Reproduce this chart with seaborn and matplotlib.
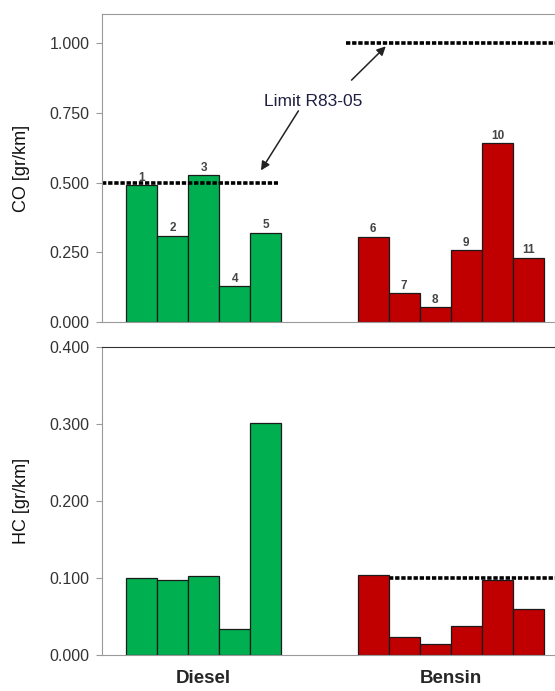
import numpy as np
import pandas as pd
import matplotlib
matplotlib.use('Agg')
import matplotlib.pyplot as plt
import seaborn as sns

# Datos
vehiculo = ['1', '2', '3', '4', '5', '6', '7', '8', '9', '10', '11']
grupo = ['Diesel'] * 5 + ['Bensin'] * 6
co_vals = [0.491, 0.309, 0.527, 0.129, 0.320, 0.306, 0.103, 0.053, 0.258, 0.640, 0.230]
hc_vals = [0.100, 0.098, 0.103, 0.034, 0.301, 0.104, 0.023, 0.014, 0.038, 0.098, 0.060]
limite_co_diesel = 0.5
limite_co_bensin = 1.0
limite_hc_bensin = 0.1
etiqueta_limite = 'Limit R83-05'

# posiciones de las barras (hueco entre grupos)
posiciones = list(range(5)) + [7.46 + i for i in range(6)]

df = pd.DataFrame({'pos': posiciones, 'co': co_vals, 'hc': hc_vals,
                   'grupo': grupo, 'id': vehiculo})

sns.set_style('white')
plt.rcParams['font.family'] = ['Liberation Sans', 'DejaVu Sans']

colores = {'Diesel': '#00B050', 'Bensin': '#C00000'}
XMIN, XMAX = -1.27, -1.27 + 478 / 31.06

fig = plt.figure(figsize=(5.55, 6.91), dpi=100)
ax_co = fig.add_axes([102 / 555, 1 - 322 / 691, 478 / 555, 308 / 691])
ax_hc = fig.add_axes([102 / 555, 1 - 655 / 691, 478 / 555, 308 / 691])


def dibujar(ax, columna):
    sns.barplot(data=df, x='pos', y=columna, hue='grupo', palette=colores,
                native_scale=True, width=1, dodge=False, edgecolor='#1a1a1a',
                linewidth=0.9, saturation=1, legend=False, ax=ax)
    ax.set_xlim(XMIN, XMAX)
    ax.set_xlabel('')
    for s in ['left', 'bottom', 'top']:
        ax.spines[s].set_color('#9a9a9a')
    ax.spines['right'].set_visible(False)
    ax.tick_params(axis='y', direction='out', length=4, color='#9a9a9a',
                   labelsize=11.5, labelcolor='#333333', left=True, pad=5)
    ax.yaxis.set_major_formatter(matplotlib.ticker.FormatStrFormatter('%.3f'))


# Panel CO
dibujar(ax_co, 'co')
ax_co.set_ylim(0, 1.104)
ax_co.set_yticks([0, 0.25, 0.5, 0.75, 1.0])
ax_co.set_xticks([])
ax_co.set_ylabel('CO [gr/km]', fontsize=13, labelpad=14, color='#111111')
for cont, g in zip(ax_co.containers, ['Diesel', 'Bensin']):
    ax_co.bar_label(cont, labels=df.loc[df.grupo == g, 'id'].tolist(),
                    padding=1, fontsize=8.5, color='#444444', fontweight='bold')

punteado = dict(color='black', linewidth=2.6, linestyle=(0, (1.2, 0.5)))
ax_co.plot([XMIN, 4.4], [limite_co_diesel] * 2, **punteado)
ax_co.plot([6.6, XMAX], [limite_co_bensin] * 2, **punteado)
ax_co.text(5.53, 0.792, etiqueta_limite, fontsize=12.5, color='#1f1f3f',
           ha='center', va='center')
flecha = dict(arrowstyle='-|>', color='#222222', lw=1.1, mutation_scale=13)
ax_co.annotate('', xy=(3.8, 0.535), xytext=(5.1, 0.765), arrowprops=flecha)
ax_co.annotate('', xy=(7.93, 0.995), xytext=(6.7, 0.86), arrowprops=flecha)

# Panel HC
dibujar(ax_hc, 'hc')
ax_hc.set_ylim(0, 0.4)
ax_hc.set_yticks([0, 0.1, 0.2, 0.3, 0.4])
ax_hc.spines['top'].set_color('#333333')
ax_hc.set_ylabel('HC [gr/km]', fontsize=13, labelpad=14, color='#111111')
ax_hc.plot([7.96, XMAX], [limite_hc_bensin] * 2, **punteado)
ax_hc.set_xticks([2.0, 9.96])
ax_hc.set_xticklabels(['Diesel', 'Bensin'], fontsize=13.5, fontweight='bold')
ax_hc.tick_params(axis='x', length=0, pad=11)

fig.savefig('out.png', dpi=100)
